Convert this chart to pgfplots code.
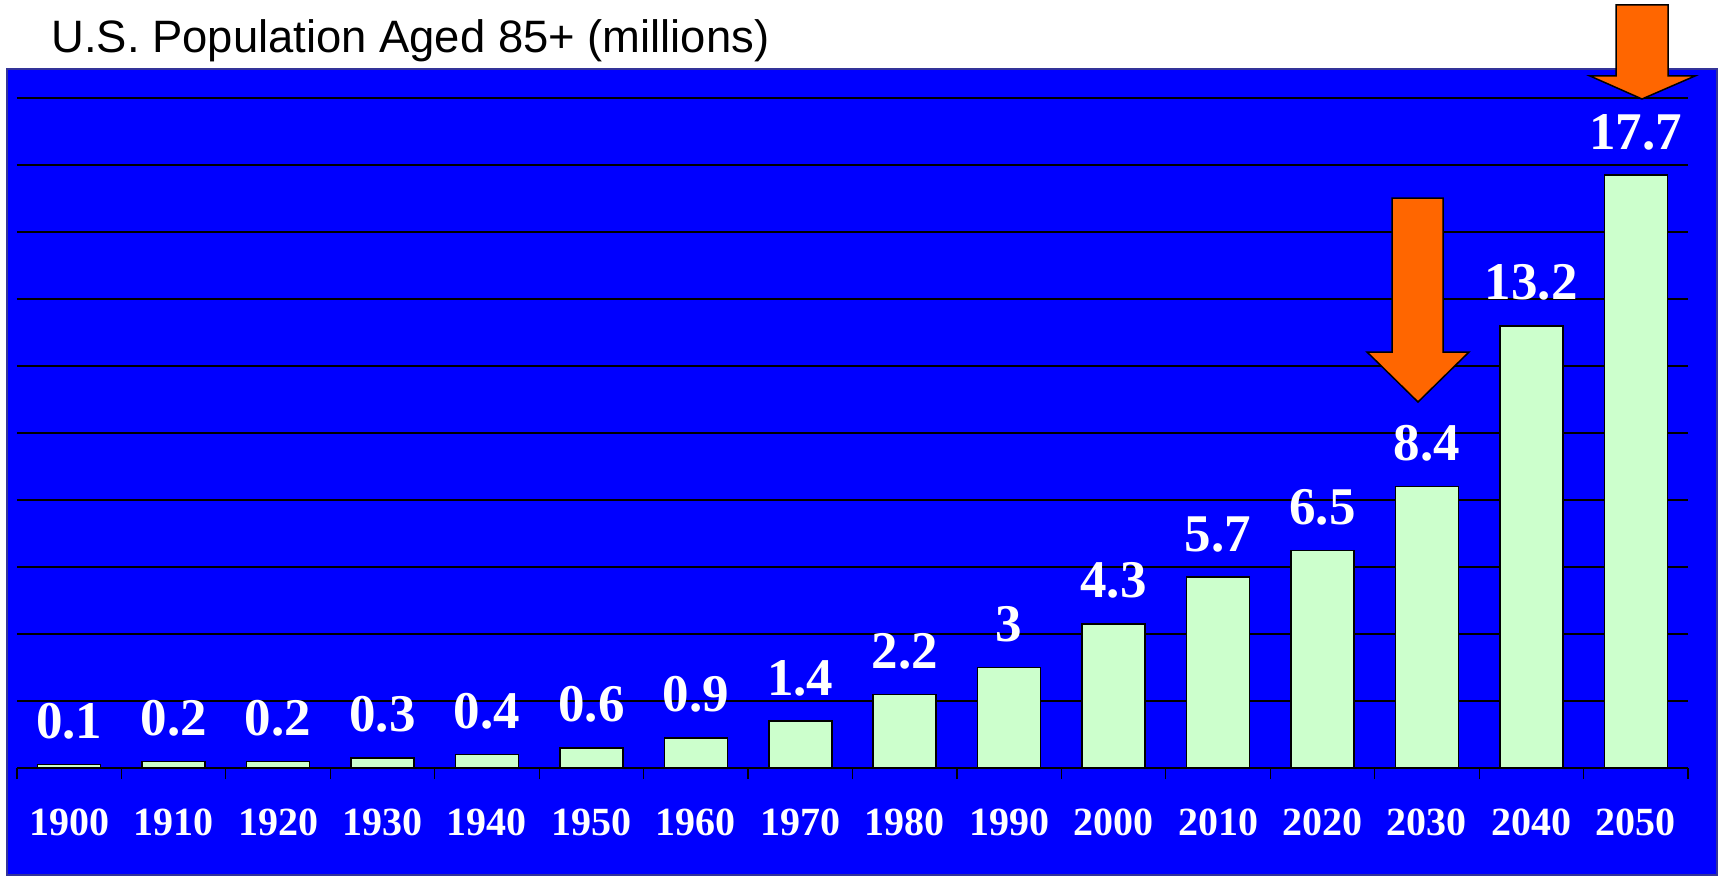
\documentclass[border=0pt]{standalone}
\usepackage{pgfplots}
\pgfplotsset{compat=1.18}
\usepackage{pgfplotstable}
\usepackage{fontspec}
\setmainfont{Liberation Serif}
\newfontfamily\arial{Liberation Sans}
\definecolor{bgblue}{HTML}{0000FF}
\definecolor{bordblue}{HTML}{333399}
\definecolor{barfill}{HTML}{CCFFCC}
\definecolor{arroworange}{HTML}{FF6600}

\pgfplotstableread{
x year val label
0 1900 0.1 0.1
1 1910 0.2 0.2
2 1920 0.2 0.2
3 1930 0.3 0.3
4 1940 0.4 0.4
5 1950 0.6 0.6
6 1960 0.9 0.9
7 1970 1.4 1.4
8 1980 2.2 2.2
9 1990 3.0 3
10 2000 4.3 4.3
11 2010 5.7 5.7
12 2020 6.5 6.5
13 2030 8.4 8.4
14 2040 13.2 13.2
15 2050 17.7 17.7
}\datatable

\begin{document}
\begin{tikzpicture}
\useasboundingbox (0pt,0pt) rectangle (859.5pt,437.5pt);
\fill[bgblue, draw=bordblue, line width=1pt] (3.5pt,0pt) rectangle (858.5pt,403pt);
\node[anchor=west, inner sep=0pt, font=\arial\fontsize{22.7}{27}\selectfont] at (25.5pt,417pt) {U.S. Population Aged 85+ (millions)};
\begin{axis}[
  at={(8.5pt,53.5pt)}, anchor=south west,
  scale only axis, width=835.5pt, height=335pt,
  xmin=-0.5, xmax=15.5, ymin=0, ymax=20,
  axis x line=bottom, axis y line=left,
  axis line style={-},
  x axis line style={black, line width=0.7pt},
  y axis line style={draw=none},
  ytick={2,4,...,20}, yticklabels={},
  major y tick style={draw=none},
  ymajorgrids, grid style={black, line width=0.7pt},
  xtick={0,...,15},
  xticklabels={1900,1910,1920,1930,1940,1950,1960,1970,1980,1990,2000,2010,2020,2030,2040,2050},
  major x tick style={draw=none},
  minor xtick={-0.5,0.5,...,15.5},
  minor tick length=5.5pt, tick align=outside,
  minor x tick style={black, line width=0.6pt},
  xticklabel style={font=\bfseries\fontsize{20}{24}\selectfont, text=white, anchor=base, yshift=-29.5pt},
]
\addplot[ybar, bar width=31.5pt, fill=barfill, draw=black, line width=0.75pt,
  nodes near coords, point meta=explicit symbolic,
  every node near coord/.append style={font=\bfseries\fontsize{26.5}{31}\selectfont, text=white, anchor=base, yshift=13pt}]
  table[x=x, y=val, meta=label] {\datatable};
\end{axis}
\filldraw[fill=arroworange, draw=black, line width=0.75pt]
  (696pt,338.5pt) -- (721.5pt,338.5pt) -- (721.5pt,261.5pt) -- (734.5pt,261.5pt)
  -- (709pt,236.5pt) -- (683.5pt,261.5pt) -- (696pt,261.5pt) -- cycle;
\filldraw[fill=arroworange, draw=black, line width=0.75pt]
  (808pt,435pt) -- (834pt,435pt) -- (834pt,399.5pt) -- (847.5pt,399.5pt)
  -- (821pt,388pt) -- (795pt,399.5pt) -- (808pt,399.5pt) -- cycle;
\end{tikzpicture}
\end{document}
